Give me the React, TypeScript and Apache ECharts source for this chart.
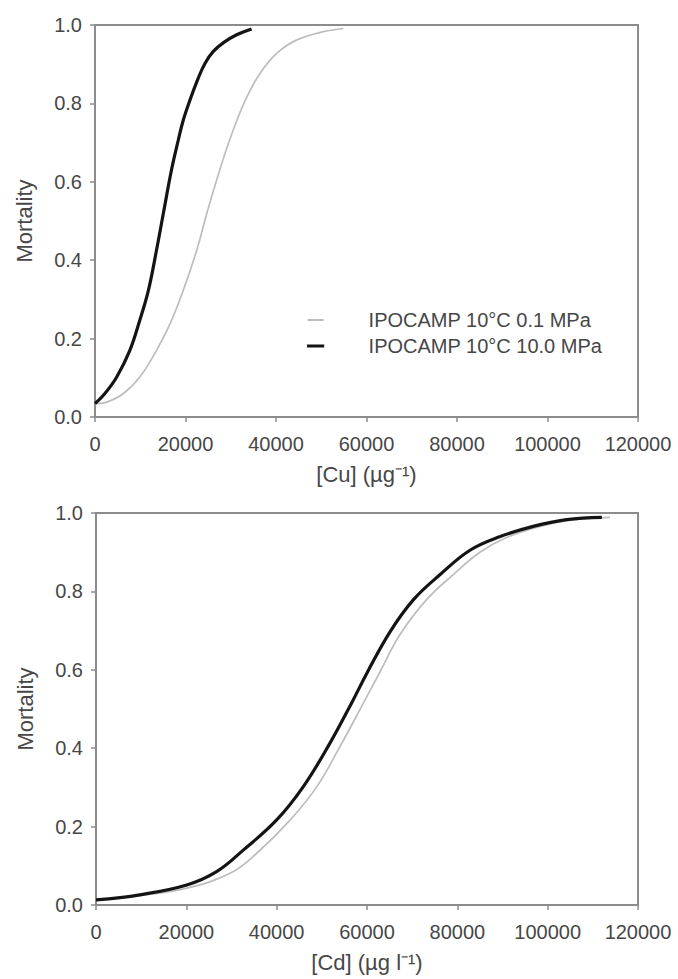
import React, { useEffect, useRef } from "react";
import * as echarts from "echarts";

const seriesNames = ["IPOCAMP 10°C 0.1 MPa", "IPOCAMP 10°C 10.0 MPa"];

// Top panel: Cu
const cuLowX = [0, 2600, 6300, 9900, 13600, 16600, 19500, 22500, 24700, 26900, 29100, 31300, 33500, 36500, 40200, 44600, 50500, 54900];
const cuLowY = [0.034, 0.038, 0.06, 0.102, 0.17, 0.238, 0.323, 0.426, 0.519, 0.605, 0.685, 0.755, 0.815, 0.877, 0.928, 0.962, 0.983, 0.991];
const cuHighX = [0, 2200, 4800, 7700, 9900, 11800, 13600, 15100, 16900, 18400, 19500, 21000, 22800, 24300, 26100, 28400, 31300, 34600];
const cuHighY = [0.034, 0.06, 0.102, 0.17, 0.247, 0.323, 0.426, 0.519, 0.63, 0.706, 0.757, 0.809, 0.864, 0.902, 0.932, 0.955, 0.975, 0.99];

// Bottom panel: Cd
const cdLowX = [0, 9700, 20100, 29700, 35600, 43000, 48900, 54000, 59200, 62900, 67300, 73200, 79100, 85000, 90400, 97500, 105000, 113800];
const cdLowY = [0.013, 0.024, 0.043, 0.081, 0.132, 0.217, 0.302, 0.404, 0.515, 0.595, 0.69, 0.779, 0.843, 0.9, 0.935, 0.963, 0.982, 0.989];
const cdHighX = [0, 9700, 20100, 26700, 32600, 40000, 45900, 51800, 56800, 60000, 65100, 70300, 76200, 82800, 89500, 96800, 104200, 112000];
const cdHighY = [0.013, 0.026, 0.051, 0.085, 0.14, 0.217, 0.302, 0.413, 0.52, 0.592, 0.697, 0.779, 0.843, 0.905, 0.94, 0.966, 0.983, 0.989];

const xTicks = { min: 0, max: 120000, interval: 20000 };
const yTicks = { min: 0, max: 1, interval: 0.2 };
const xNames = ["[Cu] (µg⁻¹)", "[Cd] (µg l⁻¹)"];
const yName = "Mortality";

const FONT = "'Liberation Sans', Arial, Helvetica, sans-serif";
const AXIS = "#8c8c8c";
const TEXT = "#474747";
const LOW = "#bdbdbd";
const HIGH = "#141414";

function zip(xs: number[], ys: number[]) {
  return xs.map((x, i) => [x, ys[i]]);
}

export default function App() {
  const ref = useRef<HTMLDivElement>(null);
  useEffect(() => {
    if (!ref.current) return;
    const chart = echarts.init(ref.current, null, { renderer: "svg" });
    const grids = [
      { left: 95, top: 25, width: 543, height: 392 },
      { left: 96, top: 513, width: 542, height: 392 },
    ];
    const xAxes = grids.map((_, i) => ({
      type: "value",
      gridIndex: i,
      min: xTicks.min,
      max: xTicks.max,
      interval: xTicks.interval,
      name: xNames[i],
      nameLocation: "middle",
      nameGap: 46,
      nameTextStyle: { fontFamily: FONT, fontSize: 22, color: TEXT },
      axisLine: { show: true, lineStyle: { color: AXIS, width: 2 } },
      axisTick: { show: true, inside: false, length: 5, lineStyle: { color: AXIS, width: 1.5 } },
      axisLabel: {
        margin: 17,
        fontFamily: FONT,
        fontSize: 20,
        color: TEXT,
        formatter: (v: number) => String(v),
      },
      splitLine: { show: false },
    }));
    const yAxes = grids.map((_, i) => ({
      type: "value",
      gridIndex: i,
      min: yTicks.min,
      max: yTicks.max,
      interval: yTicks.interval,
      name: yName,
      nameLocation: "middle",
      nameRotate: 90,
      nameGap: 60,
      nameTextStyle: { fontFamily: FONT, fontSize: 22, color: TEXT },
      axisLine: { show: true, lineStyle: { color: AXIS, width: 2 } },
      axisTick: { show: true, inside: false, length: 5, lineStyle: { color: AXIS, width: 1.5 } },
      axisLabel: {
        margin: 13,
        fontFamily: FONT,
        fontSize: 20,
        color: TEXT,
        formatter: (v: number) => v.toFixed(1),
      },
      splitLine: { show: false },
    }));
    const lowStyle = { color: LOW, width: 1.7 };
    const highStyle = { color: HIGH, width: 3.2 };
    const mk = (name: string, idx: number, data: number[][], ls: any, z: number) => ({
      type: "line",
      name,
      xAxisIndex: idx,
      yAxisIndex: idx,
      data,
      smooth: 0.4,
      symbol: "none",
      showSymbol: false,
      lineStyle: ls,
      itemStyle: { color: ls.color },
      z,
    });
    chart.setOption({
      animation: false,
      backgroundColor: "#ffffff",
      grid: grids.map((g) => ({
        ...g,
        show: true,
        borderColor: AXIS,
        borderWidth: 2,
        backgroundColor: "transparent",
        containLabel: false,
      })),
      xAxis: xAxes,
      yAxis: yAxes,
      legend: {
        show: true,
        orient: "vertical",
        left: 307,
        top: 309,
        padding: 0,
        itemWidth: 16,
        itemHeight: 2,
        itemGap: 4,
        selectedMode: false,
        data: [
          { name: seriesNames[0], icon: "rect", itemStyle: { color: LOW, borderWidth: 0 } },
          {
            name: seriesNames[1],
            icon: "rect",
            itemStyle: { color: HIGH, borderColor: HIGH, borderWidth: 1.2 },
          },
        ],
        textStyle: {
          fontFamily: FONT,
          fontSize: 20,
          color: TEXT,
          padding: [0, 0, 0, 40],
          lineHeight: 22,
        },
      },
      series: [
        mk(seriesNames[0], 0, zip(cuLowX, cuLowY), lowStyle, 2),
        mk(seriesNames[1], 0, zip(cuHighX, cuHighY), highStyle, 3),
        mk(seriesNames[0], 1, zip(cdLowX, cdLowY), lowStyle, 2),
        mk(seriesNames[1], 1, zip(cdHighX, cdHighY), highStyle, 3),
      ],
    });
    return () => chart.dispose();
  }, []);
  return (
    <div
      ref={ref}
      style={{ position: "fixed", left: 0, top: 0, width: 678, height: 979, background: "#fff" }}
    />
  );
}
